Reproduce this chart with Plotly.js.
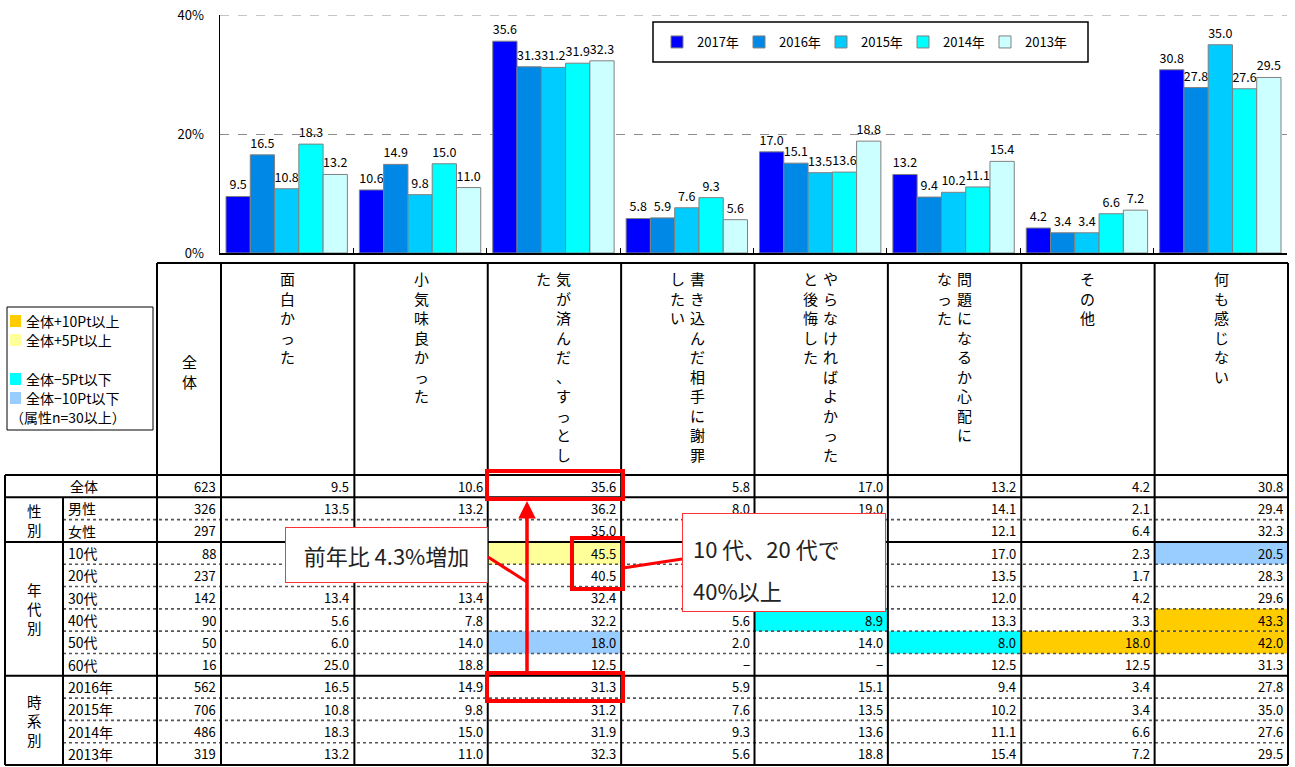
<!DOCTYPE html>
<html><head><meta charset="utf-8">
<script src="https://cdn.plot.ly/plotly-3.0.1.min.js"></script>
<style>html,body{margin:0;padding:0;background:#fff}#chart{width:1295px;height:767px}</style>
</head><body><div id="chart"></div>
<script>
// ---------- DATA ----------
const categories = ['面白かった','小気味良かった','気が済んだ、すっとした','書き込んだ相手に謝罪したい','やらなければよかったと後悔した','問題になるか心配になった','その他','何も感じない'];
const headerLines = [['面白かった'],['小気味良かった'],['気が済んだ、すっとし','た'],['書き込んだ相手に謝罪','したい'],['やらなければよかった','と後悔した'],['問題になるか心配に','なった'],['その他'],['何も感じない']];
const seriesNames = ['2017年','2016年','2015年','2014年','2013年'];
const y2017 = [9.5,10.6,35.6,5.8,17.0,13.2,4.2,30.8];
const y2016 = [16.5,14.9,31.3,5.9,15.1,9.4,3.4,27.8];
const y2015 = [10.8,9.8,31.2,7.6,13.5,10.2,3.4,35.0];
const y2014 = [18.3,15.0,31.9,9.3,13.6,11.1,6.6,27.6];
const y2013 = [13.2,11.0,32.3,5.6,18.8,15.4,7.2,29.5];

const rowLabels = ['全体','男性','女性','10代','20代','30代','40代','50代','60代','2016年','2015年','2014年','2013年'];
const rowN = [623,326,297,88,237,142,90,50,16,562,706,486,319];
const rowMale   = [13.5,13.2,36.2,8.0,19.0,14.1,2.1,29.4];
const rowFemale = [null,null,35.0,null,null,12.1,6.4,32.3];
const row10s    = [null,null,45.5,null,null,17.0,2.3,20.5];
const row20s    = [null,null,40.5,null,null,13.5,1.7,28.3];
const row30s    = [13.4,13.4,32.4,null,null,12.0,4.2,29.6];
const row40s    = [5.6,7.8,32.2,5.6,8.9,13.3,3.3,43.3];
const row50s    = [6.0,14.0,18.0,2.0,14.0,8.0,18.0,42.0];
const row60s    = [25.0,18.8,12.5,'−','−',12.5,12.5,31.3];
const groupLabels = ['性別','年代別','時系別'];
const groupRows = [[1,2],[3,8],[9,12]];
const highlightLabels = ['全体+10Pt以上','全体+5Pt以上','全体−5Pt以下','全体−10Pt以下'];
const highlightNote = '（属性n=30以上）';
const callout1Text = '前年比 4.3%増加';
const callout2Lines = ['10 代、20 代で','40%以上'];

// ---------- SETUP ----------
const W = 1295, H = 767;
const X = x => x / W, Y = y => 1 - y / H;
const FONT = '"Noto Sans CJK JP", "Noto Sans", sans-serif';
const barColors = ['#0000FF','#0088E6','#00CCFF','#00FFFF','#CCFFFF'];
const hlColors = ['#FFCC00','#FFFF99','#00FFFF','#99CCFF'];
const seriesVals = [y2017,y2016,y2015,y2014,y2013];
const tableRows = [y2017,rowMale,rowFemale,row10s,row20s,row30s,row40s,row50s,row60s,y2016,y2015,y2014,y2013];

const traces = seriesVals.map((v,i)=>({
  type:'bar', name:seriesNames[i], x:categories, y:v,
  marker:{color:barColors[i], line:{color:'#808080', width:1}},
  texttemplate:'%{y:.1f}', textposition:'outside', cliponaxis:false,
  textfont:{size:12.5, color:'#000', family:FONT}, hoverinfo:'none'
}));

// table geometry
const colL = 221, colW = (1288-221)/8;
const colEdge = i => colL + colW*i;
const rowTop = 475, rowH = (765-475)/13;
const rEdge = i => rowTop + rowH*i;

const shapes = [];
const ann = [];
function line(x0,y0,x1,y1,color,width,dash){
  shapes.push({type:'line',xref:'paper',yref:'paper',x0:X(x0),y0:Y(y0),x1:X(x1),y1:Y(y1),line:{color:color,width:width,dash:dash||'solid'},layer:'above'});
}
function rect(x0,y0,x1,y1,fill,lc,lw){
  shapes.push({type:'rect',xref:'paper',yref:'paper',x0:X(x0),y0:Y(y0),x1:X(x1),y1:Y(y1),fillcolor:fill||'rgba(0,0,0,0)',line:{color:lc||'rgba(0,0,0,0)',width:lw||0},layer:'above'});
}
function text(x,y,t,opts){
  opts = opts||{};
  ann.push(Object.assign({xref:'paper',yref:'paper',x:X(x),y:Y(y),text:t,showarrow:false,
    xanchor:opts.xa||'center',yanchor:opts.ya||'middle',
    font:{family:FONT,size:opts.size||13,color:opts.color||'#000'}}, opts.extra||{}));
}

// top gridline at the axis maximum (40%)
shapes.push({type:'line',xref:'paper',yref:'y',x0:X(220),x1:X(1287),y0:40,y1:40,line:{color:'#8c8c8c',width:1,dash:'dash'},layer:'below'});

// highlight fills (attribute rows, n>=30)
tableRows.forEach((row,r)=>{
  if(r<1||r>8||rowN[r]<30) return;
  row.forEach((v,c)=>{
    if(typeof v!=='number') return;
    const d = v - y2017[c];
    let col = null;
    if(d>=10) col=hlColors[0]; else if(d>=5) col=hlColors[1];
    else if(d<=-10) col=hlColors[3]; else if(d<=-5) col=hlColors[2];
    if(col) rect(colEdge(c),rEdge(r),colEdge(c+1),rEdge(r+1),col);
  });
});

// grid lines of table
const solidAfter = [0,2,8];
for(let r=1;r<13;r++){
  if(solidAfter.includes(r-1)) line(5,rEdge(r),1288,rEdge(r),'#000',2);
  else line(63,rEdge(r),1288,rEdge(r),'#555',1.6,'dot');
}
line(157,263,1288,263,'#000',2);
line(5,475,1288,475,'#000',2);
line(5,765,1288,765,'#000',2);
line(5,475,5,765,'#000',2);
line(63,rEdge(1),63,765,'#000',2);
line(157,263,157,765,'#000',2);
for(let c=0;c<=8;c++) line(colEdge(c),263,colEdge(c),765,'#000',2);

// header texts
text(189,371,'全<br>体',{size:15});
headerLines.forEach((lines,i)=>{
  const cx = colL + colW*(i+0.5);
  lines.forEach((s,j)=>{
    const x = lines.length===1 ? cx : (j===0 ? cx+9.5 : cx-10.5);
    text(x,266,s.split('').join('<br>'),{size:15,ya:'top'});
  });
});

// row labels & values
tableRows.forEach((row,r)=>{
  const cy = rEdge(r)+rowH/2;
  text(r===0?68:66,cy,rowLabels[r],{xa:'left',size:14});
  text(218,cy,String(rowN[r]),{xa:'right',size:13});
  row.forEach((v,c)=>{
    if(v===null) return;
    const s = typeof v==='number' ? v.toFixed(1) : v;
    text(colEdge(c+1)-3,cy,s,{xa:'right',size:13});
  });
});
groupLabels.forEach((g,i)=>{
  const [a,b] = groupRows[i];
  text(34,(rEdge(a)+rEdge(b+1))/2,g.split('').join('<br>'),{size:14.5});
});

// highlight legend box
rect(7,307,153,430,null,'#000',1);
const hlY = [321,340,379,398];
highlightLabels.forEach((s,i)=>{
  rect(10,hlY[i]-6,21,hlY[i]+6,hlColors[i]);
  text(24,hlY[i],s,{xa:'left',size:14});
});
text(8,417,highlightNote,{xa:'left',size:14});

// bar legend frame
rect(653,22,1088,62,null,'#000',1.5);

// red emphasis boxes
rect(487,471,623,499,null,'#FF0000',4);
rect(572,538,623,589,null,'#FF0000',4);
rect(487,673,623,701,null,'#FF0000',4);
line(488,557,527,582,'#FF0000',3);
line(623,568,682,559,'#FF0000',3);

// callouts (drawn above table text)
ann.push({xref:'paper',yref:'paper',x:X(285),y:Y(527),xanchor:'left',yanchor:'top',showarrow:false,
  text:callout1Text,width:201,height:54,bgcolor:'#fff',bordercolor:'#FF3333',borderwidth:1,borderpad:0,
  font:{family:FONT,size:22,color:'#222'}});
ann.push({xref:'paper',yref:'paper',x:X(682),y:Y(513),xanchor:'left',yanchor:'top',showarrow:false,
  text:' ',width:202,height:97,bgcolor:'#fff',bordercolor:'#FF3333',borderwidth:1,borderpad:0,
  font:{family:FONT,size:22,color:'#222'}});
text(691,548,callout2Lines[0],{xa:'left',size:22,color:'#222'});
text(691,590,callout2Lines[1],{xa:'left',size:22,color:'#222'});
// arrow
ann.push({xref:'paper',yref:'paper',x:X(527),y:Y(501),ax:0,ay:172,text:'',showarrow:true,
  arrowhead:2,arrowsize:1,arrowwidth:3.5,arrowcolor:'#FF0000',standoff:0,startstandoff:0});

const layout = {
  width:W, height:H, margin:{l:0,r:0,t:0,b:0},
  paper_bgcolor:'#fff', plot_bgcolor:'rgba(0,0,0,0)',
  font:{family:FONT,color:'#000'},
  barmode:'group', bargap:0.09, bargroupgap:0, uniformtext:{mode:false},
  xaxis:{domain:[X(220),X(1287)], type:'category', range:[-0.5,7.5], showline:true, linecolor:'#000', linewidth:2,
    ticks:'inside', tickson:'boundaries', ticklen:5, tickcolor:'#000', showticklabels:false, showgrid:false, fixedrange:true},
  yaxis:{domain:[Y(253),Y(15)], range:[0,40], dtick:20, ticksuffix:'%', showgrid:true, gridcolor:'#8c8c8c', griddash:'dash', gridwidth:1,
    showline:true, linecolor:'#000', linewidth:1.5, zeroline:false, ticks:'', ticklabelstandoff:12,
    tickfont:{size:13,family:FONT}, fixedrange:true},
  showlegend:true,
  legend:{orientation:'h', x:X(657), xanchor:'left', y:Y(42), yanchor:'middle', font:{size:13,family:FONT},
    bgcolor:'rgba(0,0,0,0)', borderwidth:0, entrywidth:37, entrywidthmode:'pixels', itemclick:false, itemdoubleclick:false},
  shapes:shapes, annotations:ann
};
traces.forEach(t=>{ t.constraintext='none'; });
Plotly.newPlot('chart', traces, layout, {displayModeBar:false, staticPlot:true});
</script></body></html>
